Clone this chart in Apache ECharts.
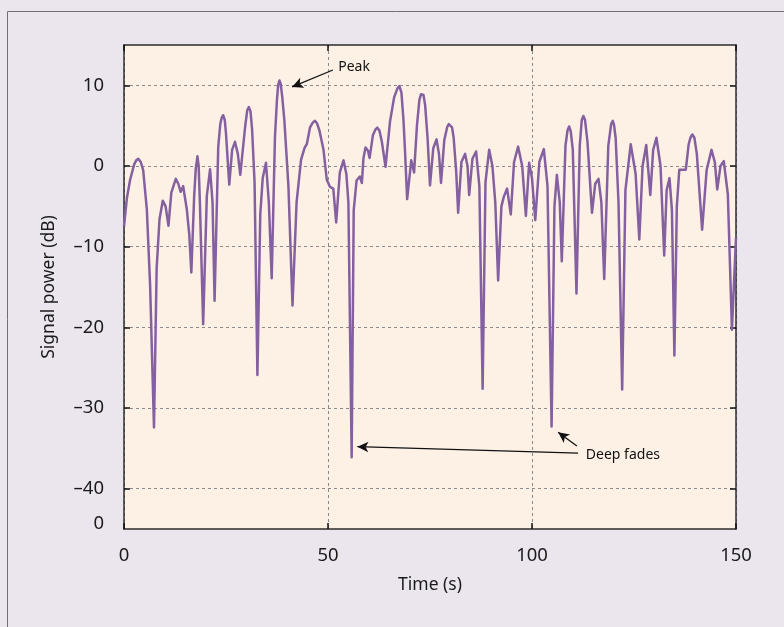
<!DOCTYPE html>
<html>
<head>
<meta charset="utf-8">
<script src="https://cdn.jsdelivr.net/npm/echarts@6/dist/echarts.min.js"></script>
<style>
html,body{margin:0;padding:0;background:#ebe5ee;}
#c{width:784px;height:627px;}
</style>
</head>
<body>
<div id="c"></div>
<script>
// Time (s)
const times = [
  0,0.7,1.5,2.5,3.0,3.5,4.1,4.7,5.6,6.4,7.35,8.0,8.7,9.5,10.2,10.9,11.6,12.7,13.3,13.9,
  14.5,15.4,16.0,16.5,17.2,17.6,18.0,18.3,18.6,19.4,20.3,21.1,21.7,22.2,23.1,23.6,23.9,24.3,24.7,25.0,
  25.8,26.5,27.2,27.9,28.5,29.7,30.2,30.6,31.0,31.4,32.0,32.7,33.4,34.0,34.8,35.5,36.2,37.0,37.5,37.8,
  38.1,38.4,38.8,39.3,40.3,41.3,42.3,43.4,44.3,44.8,45.6,46.3,46.8,47.3,47.9,48.9,49.7,50.5,51.3,52.0,
  52.9,53.8,54.5,55.0,55.8,56.3,57.0,57.8,58.3,58.7,59.2,59.8,60.2,61.0,61.6,62.1,62.6,63.2,64.1,65.2,
  66.2,67.0,67.5,68.0,68.5,68.9,69.4,70.4,71.1,71.8,72.4,72.8,73.1,73.4,73.8,74.4,75.0,75.8,76.6,77.2,
  77.7,78.5,79.2,79.6,80.0,80.4,80.8,81.4,81.9,82.7,83.6,84.2,84.6,85.4,86.3,87.1,87.9,88.6,89.5,90.3,
  91.0,91.7,92.5,93.1,93.9,94.8,95.6,96.6,97.6,98.5,99.3,100.0,100.8,101.8,102.9,103.8,104.8,105.5,106.1,106.8,
  107.3,108.2,108.7,109.1,109.5,110.0,110.9,111.7,112.2,112.6,113.0,113.6,114.7,115.5,116.3,117.0,117.7,118.7,119.4,119.8,
  120.1,120.5,121.2,122.1,122.9,124.2,125.4,126.3,127.1,128.0,129.0,129.7,130.5,131.5,132.4,133.0,133.7,134.3,134.9,135.5,
  136.1,137.7,138.4,138.9,139.3,139.8,140.4,141.7,142.8,144.0,144.8,145.4,146.2,147.0,148.0,149.0,150.0
];
// Signal power (dB)
const power = [
  -7.5,-4.0,-1.7,0.2,0.7,0.9,0.5,-0.5,-5.4,-14.8,-32.4,-12.7,-6.6,-4.3,-5.0,-7.4,-3.3,-1.6,-2.2,-3.2,
  -2.5,-5.4,-8.5,-13.2,-3.7,-0.3,1.2,0.0,-4.5,-19.6,-3.7,-0.4,-4.5,-16.7,2.4,5.2,5.9,6.3,5.7,4.0,
  -2.3,2.0,3.0,1.5,-1.1,4.9,6.9,7.3,6.8,4.5,-2.0,-25.9,-6.0,-1.5,0.4,-4.5,-13.9,3.6,8.3,10.1,
  10.6,10.2,8.5,5.7,-2.5,-17.3,-4.5,0.8,2.3,2.7,4.8,5.4,5.6,5.3,4.4,2.0,-1.7,-2.6,-2.8,-7.0,
  -0.8,0.7,-1.0,-4.5,-36.1,-5.5,-1.8,-1.3,-2.1,1.0,2.3,1.9,1.0,3.8,4.5,4.75,4.4,3.0,-0.1,5.5,
  8.5,9.6,9.9,9.1,5.7,1.6,-4.1,0.7,-0.8,5.0,8.2,8.9,9.1,8.8,7.6,3.5,-2.4,2.2,3.3,1.5,
  -2.1,3.2,4.8,5.2,5.3,4.8,3.5,-0.5,-5.8,0.5,1.5,0.0,-3.6,0.9,1.8,-2.5,-27.6,-2.0,2.0,0.0,
  -4.5,-14.2,-5.0,-3.8,-2.8,-6.0,0.5,2.4,0.0,-6.2,0.4,-1.5,-6.7,0.5,2.1,-2.5,-32.3,-5.0,-1.1,-4.5,
  -11.8,2.5,4.4,4.9,4.3,2.0,-15.8,2.5,5.7,6.2,5.7,3.0,-5.8,-2.2,-1.6,-4.5,-14.0,2.5,5.2,5.6,
  5.1,3.5,-4.5,-27.7,-3.0,2.7,-1.0,-9.1,0.0,2.6,-3.6,2.0,3.5,0.0,-11.1,-3.0,-1.5,-5.5,-23.5,-5.0,
  -0.45,-0.45,2.7,3.6,3.9,3.5,1.5,-7.9,-0.5,2.0,0.5,-2.9,0.0,0.6,-3.5,-20.3,-8.9
];
// Tick labels
const xTicks = [0, 50, 100, 150];
const yTicks = [-40, -30, -20, -10, 0, 10];
const yBottomLabelPos = -44.4; // the odd "0" label drawn at the bottom of the y axis

const FONT = 'Noto Sans';
const chart = echarts.init(document.getElementById('c'), null, {renderer: 'canvas'});

const seriesData = times.map((t, i) => [t, power[i]]);
const tickStyle = {show: true, inside: true, length: 6, lineStyle: {color: '#111', width: 1.5}};
const lineStyleAxis = {show: true, onZero: false, lineStyle: {color: '#2b2b2b', width: 1.5}};
const gridDash = {show: true, lineStyle: {color: '#8a8a8a', width: 1, type: [3, 3]}};
const fmtY = v => {
  if (Math.abs(v - yBottomLabelPos) < 1e-6) return '0';
  return v < 0 ? '\u2013' + (-v) : String(v);
};

chart.setOption({
  backgroundColor: '#ebe5ee',
  animation: false,
  grid: {left: 124, top: 45, width: 612, height: 484, show: true, backgroundColor: '#fdf1e6', borderWidth: 0},
  xAxis: [{
    type: 'value', min: 0, max: 150, interval: 50,
    axisLine: lineStyleAxis,
    axisTick: Object.assign({}, tickStyle, {customValues: xTicks}),
    axisLabel: {customValues: xTicks, fontFamily: FONT, fontSize: 18.5, color: '#1a1a1a', margin: 17},
    splitLine: gridDash,
    name: 'Time (s)', nameLocation: 'middle', nameGap: 47,
    nameTextStyle: {fontFamily: FONT, fontSize: 17.5, color: '#1a1a1a'}
  }, {
    type: 'value', position: 'top', min: 0, max: 150, interval: 50,
    axisLine: lineStyleAxis,
    axisTick: Object.assign({}, tickStyle, {customValues: xTicks}),
    axisLabel: {show: false}, splitLine: {show: false}
  }],
  yAxis: [{
    type: 'value', min: -45, max: 15,
    axisLine: lineStyleAxis,
    axisTick: Object.assign({}, tickStyle, {customValues: yTicks}),
    axisLabel: {customValues: yTicks.concat([yBottomLabelPos]), formatter: fmtY, fontFamily: FONT, fontSize: 18.5, color: '#1a1a1a', margin: 20},
    splitLine: gridDash,
    name: 'Signal power (dB)', nameLocation: 'middle', nameGap: 66,
    nameTextStyle: {fontFamily: FONT, fontSize: 17.5, color: '#1a1a1a'}
  }, {
    type: 'value', position: 'right', min: -45, max: 15,
    axisLine: lineStyleAxis,
    axisTick: Object.assign({}, tickStyle, {customValues: yTicks}),
    axisLabel: {show: false}, splitLine: {show: false}
  }],
  series: [{
    type: 'line', data: seriesData, showSymbol: false, symbol: 'none', z: 3,
    lineStyle: {color: '#8460a0', width: 2.5, join: 'round'},
    clip: true
  }, {
    type: 'line', data: [], z: 4, silent: true,
    markLine: {
      silent: true, symbol: ['none', 'arrow'], symbolSize: [8, 11],
      label: {show: false},
      lineStyle: {color: '#111', width: 1.3, type: 'solid'},
      data: [
        [{coord: [51.2, 11.9]}, {coord: [41.2, 9.8]}],
        [{coord: [111.3, -35.6]}, {coord: [57.2, -34.8]}],
        [{coord: [111.0, -34.7]}, {coord: [106.4, -33.0]}]
      ]
    }
  }]
});

const p1 = chart.convertToPixel({gridIndex: 0}, [52.5, 12.3]);
const p2 = chart.convertToPixel({gridIndex: 0}, [113.2, -35.8]);
chart.setOption({
  graphic: [
    {type: 'rect', shape: {x: 7.5, y: 11.5, width: 800, height: 700}, style: {fill: 'none', stroke: '#707070', lineWidth: 1}, silent: true, z: 100},
    {type: 'text', x: p1[0], y: p1[1], style: {text: 'Peak', fontFamily: FONT, fontSize: 14, fill: '#111', textVerticalAlign: 'middle', textAlign: 'left'}, z: 100},
    {type: 'text', x: p2[0], y: p2[1], style: {text: 'Deep fades', fontFamily: FONT, fontSize: 14, fill: '#111', textVerticalAlign: 'middle', textAlign: 'left'}, z: 100}
  ]
});
</script>
</body>
</html>
